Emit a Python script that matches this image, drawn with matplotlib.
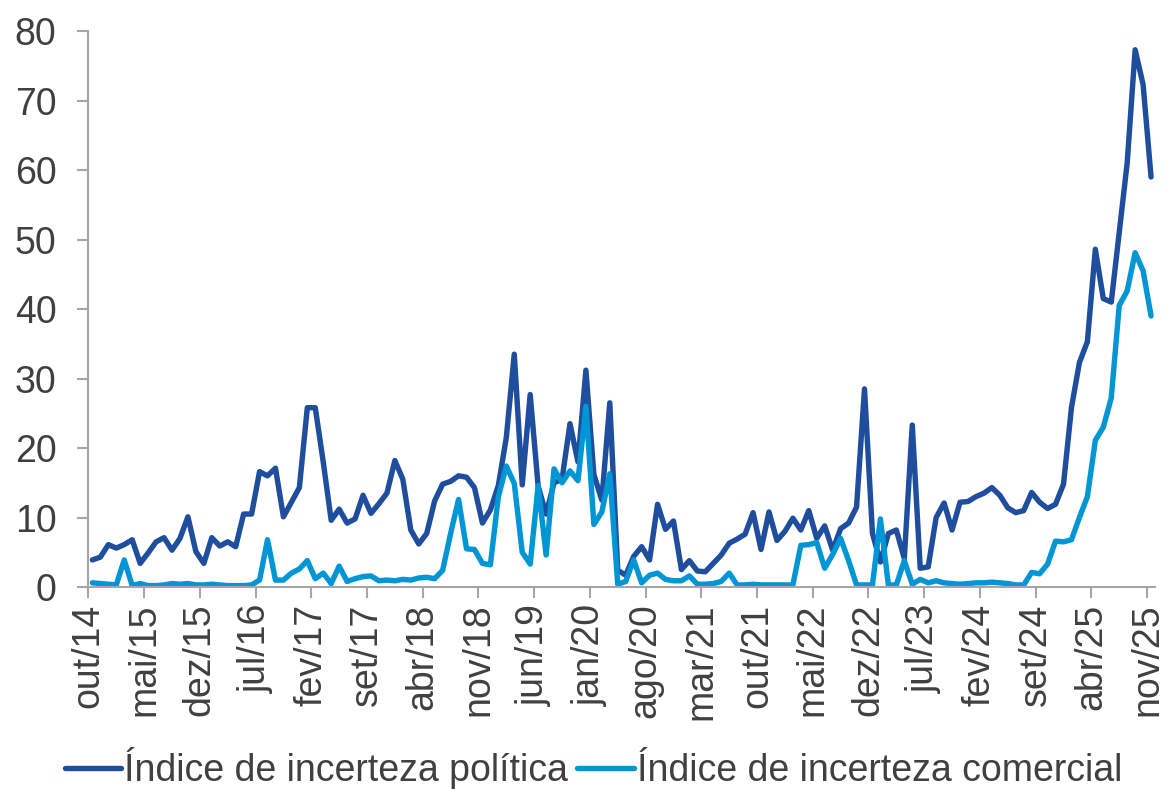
import numpy as np
import matplotlib
matplotlib.use('Agg')
import matplotlib.pyplot as plt

# Índices mensais, de out/14 a nov/25
politica = [
    3.9, 4.3, 6.1, 5.6, 6.1, 6.8, 3.4, 4.9, 6.5, 7.1,
    5.3, 7.0, 10.1, 5.1, 3.4, 7.1, 5.9, 6.5, 5.8, 10.5,
    10.5, 16.6, 16.0, 17.1, 10.1, 12.2, 14.3, 25.8, 25.8, 18.0,
    9.6, 11.2, 9.2, 9.8, 13.2, 10.6, 12.0, 13.5, 18.2, 15.5,
    8.2, 6.2, 7.7, 12.4, 14.8, 15.2, 16.0, 15.8, 14.3, 9.2,
    11.1, 14.6, 21.5, 33.5, 14.7, 27.7, 14.5, 10.5, 15.0, 15.5,
    23.5, 18.0, 31.2, 16.2, 12.5, 26.5, 2.4, 1.7, 4.4, 5.8,
    3.9, 11.9, 8.3, 9.5, 2.5, 3.8, 2.3, 2.2, 3.4, 4.6,
    6.3, 6.9, 7.6, 10.7, 5.4, 10.8, 6.7, 8.0, 9.9, 8.2,
    11.0, 7.0, 8.8, 5.3, 8.4, 9.2, 11.5, 28.5, 7.7, 3.6,
    7.7, 8.2, 4.1, 23.3, 2.7, 2.9, 10.0, 12.1, 8.2, 12.2,
    12.3, 13.0, 13.5, 14.3, 13.2, 11.4, 10.7, 11.0, 13.6, 12.2,
    11.3, 11.9, 14.8, 25.8, 32.3, 35.3, 48.6, 41.5, 41.0, 51.0,
    61.0, 77.3, 72.3, 59.0,
]

comercial = [
    0.6, 0.5, 0.4, 0.3, 3.9, 0.2, 0.5, 0.2, 0.2, 0.3,
    0.5, 0.4, 0.5, 0.3, 0.3, 0.4, 0.3, 0.2, 0.2, 0.2,
    0.3, 1.0, 6.8, 1.0, 1.0, 2.0, 2.6, 3.8, 1.2, 2.0,
    0.5, 3.0, 0.8, 1.2, 1.5, 1.6, 0.9, 1.0, 0.9, 1.1,
    1.0, 1.3, 1.4, 1.2, 2.4, 7.7, 12.6, 5.5, 5.4, 3.4,
    3.2, 13.0, 17.4, 14.9, 5.0, 3.3, 14.6, 4.6, 17.0, 15.0,
    16.7, 15.3, 26.0, 9.0, 10.8, 16.3, 0.4, 0.8, 3.9, 0.6,
    1.7, 2.0, 1.1, 0.9, 0.9, 1.6, 0.4, 0.4, 0.5, 0.8,
    2.0, 0.3, 0.3, 0.4, 0.3, 0.3, 0.3, 0.3, 0.3, 6.0,
    6.1, 6.4, 2.7, 4.7, 7.0, 3.8, 0.3, 0.3, 0.3, 9.8,
    0.3, 0.3, 3.8, 0.4, 1.1, 0.6, 0.9, 0.6, 0.5, 0.4,
    0.5, 0.6, 0.6, 0.7, 0.6, 0.5, 0.3, 0.3, 2.1, 1.9,
    3.3, 6.6, 6.5, 6.8, 10.0, 13.0, 21.1, 23.0, 27.2, 40.5,
    42.6, 48.1, 45.5, 39.0,
]

rotulos = ['out/14', 'mai/15', 'dez/15', 'jul/16', 'fev/17', 'set/17', 'abr/18',
           'nov/18', 'jun/19', 'jan/20', 'ago/20', 'mar/21', 'out/21', 'mai/22',
           'dez/22', 'jul/23', 'fev/24', 'set/24', 'abr/25', 'nov/25']

plt.rcParams['font.family'] = ['Liberation Sans', 'DejaVu Sans']

cor_texto = '#404040'
cor_eixo = '#a6a6a6'

n = len(politica)
x = np.arange(n) + 0.5

fig = plt.figure(figsize=(11.68, 7.89), dpi=100)
ax = fig.add_axes([0.0757, 0.256, 0.9132, 0.7047])

ax.plot(x, politica, color='#1f4e9f', lw=3.9, solid_joinstyle='round',
        solid_capstyle='round', label='Índice de incerteza política')
ax.plot(x, comercial, color='#0096d6', lw=3.9, solid_joinstyle='round',
        solid_capstyle='round', label='Índice de incerteza comercial')

ax.set_xlim(0, n)
ax.set_ylim(0, 80)
ax.set_yticks(range(0, 81, 10))
ax.set_xticks(np.arange(0, n, 7))
ax.set_xticklabels(rotulos, rotation=90)

for lado in ['top', 'right']:
    ax.spines[lado].set_visible(False)
for lado in ['left', 'bottom']:
    ax.spines[lado].set_color(cor_eixo)
    ax.spines[lado].set_linewidth(1.5)

ax.tick_params(axis='both', colors=cor_eixo, labelcolor=cor_texto,
               labelsize=27, length=8, width=1.5, direction='out')
ax.tick_params(axis='y', pad=15)
ax.tick_params(axis='x', pad=4)

fig.legend(loc='center', bbox_to_anchor=(0.508, 0.026), ncol=2,
           frameon=False, fontsize=27, labelcolor=cor_texto,
           handlelength=1.5, handletextpad=0.08, columnspacing=0.25)

fig.savefig('out.png', dpi=100)
